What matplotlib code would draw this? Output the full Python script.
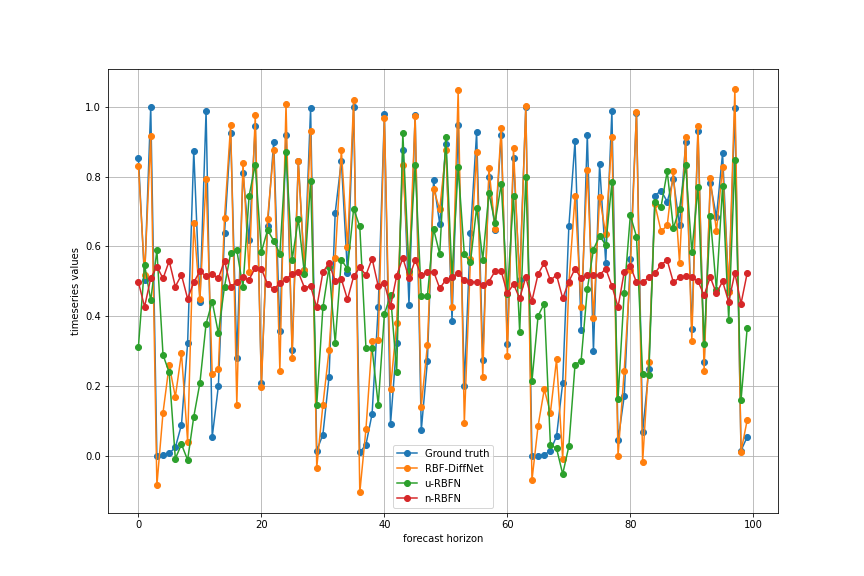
#!/usr/bin/env python3
# -*- coding: utf-8 -*-
# Forecast comparison: ground truth vs three RBF models over 100 steps.
import matplotlib
matplotlib.use('Agg')
import matplotlib.pyplot as plt

# Values (one per forecast step).
ground_truth = [
    0.852, 0.504, 1.0, 0.0, 0.003, 0.007, 0.024, 0.089, 0.323, 0.874,
    0.441, 0.988, 0.054, 0.2, 0.637, 0.925, 0.28, 0.81, 0.617, 0.944,
    0.209, 0.659, 0.9, 0.357, 0.918, 0.302, 0.844, 0.533, 0.997, 0.015,
    0.061, 0.226, 0.696, 0.845, 0.523, 1.0, 0.01, 0.032, 0.12, 0.425,
    0.979, 0.091, 0.324, 0.876, 0.433, 0.977, 0.073, 0.272, 0.789, 0.664,
    0.893, 0.387, 0.947, 0.2, 0.638, 0.927, 0.275, 0.798, 0.646, 0.918,
    0.32, 0.854, 0.503, 1.0, 0.0, 0.0, 0.003, 0.015, 0.056, 0.209,
    0.657, 0.901, 0.36, 0.92, 0.3, 0.835, 0.553, 0.988, 0.044, 0.17,
    0.565, 0.983, 0.068, 0.248, 0.745, 0.76, 0.728, 0.792, 0.66, 0.898,
    0.363, 0.93, 0.268, 0.782, 0.684, 0.867, 0.472, 0.996, 0.015, 0.054]

rbf_diffnet = [
    0.83, 0.519, 0.915, -0.085, 0.124, 0.26, 0.169, 0.294, 0.041, 0.667,
    0.448, 0.793, 0.234, 0.248, 0.682, 0.949, 0.146, 0.839, 0.528, 0.976,
    0.196, 0.679, 0.876, 0.243, 1.009, 0.28, 0.844, 0.531, 0.93, -0.034,
    0.146, 0.302, 0.567, 0.876, 0.597, 1.02, -0.105, 0.076, 0.328, 0.333,
    0.969, 0.192, 0.38, 0.834, 0.52, 0.973, 0.141, 0.318, 0.764, 0.706,
    0.876, 0.425, 1.047, 0.094, 0.565, 0.871, 0.226, 0.825, 0.649, 0.94,
    0.285, 0.881, 0.49, 1.003, -0.07, 0.086, 0.19, 0.124, 0.276, -0.01,
    0.494, 0.743, 0.426, 0.818, 0.394, 0.74, 0.636, 0.912, 0.0, 0.243,
    0.532, 0.986, -0.018, 0.27, 0.72, 0.643, 0.66, 0.815, 0.553, 0.912,
    0.33, 0.946, 0.243, 0.795, 0.643, 0.828, 0.47, 1.05, 0.012, 0.102]

u_rbfn = [
    0.313, 0.547, 0.445, 0.589, 0.289, 0.239, -0.008, 0.033, -0.012, 0.112,
    0.209, 0.378, 0.442, 0.351, 0.485, 0.581, 0.589, 0.483, 0.745, 0.834,
    0.584, 0.647, 0.616, 0.579, 0.869, 0.562, 0.679, 0.521, 0.787, 0.146,
    0.425, 0.54, 0.323, 0.562, 0.535, 0.708, 0.657, 0.31, 0.308, 0.146,
    0.406, 0.46, 0.24, 0.925, 0.53, 0.833, 0.458, 0.458, 0.65, 0.578,
    0.912, 0.513, 0.827, 0.578, 0.555, 0.711, 0.562, 0.752, 0.667, 0.779,
    0.464, 0.745, 0.355, 0.798, 0.214, 0.401, 0.436, 0.032, 0.021, -0.052,
    0.027, 0.26, 0.273, 0.477, 0.591, 0.63, 0.604, 0.783, 0.164, 0.467,
    0.689, 0.628, 0.235, 0.231, 0.728, 0.714, 0.815, 0.652, 0.708, 0.833,
    0.584, 0.769, 0.321, 0.686, 0.475, 0.772, 0.389, 0.847, 0.159, 0.365]

n_rbfn = [
    0.497, 0.427, 0.509, 0.542, 0.508, 0.558, 0.485, 0.518, 0.45, 0.497,
    0.529, 0.514, 0.52, 0.509, 0.558, 0.485, 0.497, 0.511, 0.505, 0.538,
    0.535, 0.492, 0.477, 0.494, 0.506, 0.521, 0.526, 0.482, 0.486, 0.425,
    0.526, 0.552, 0.5, 0.506, 0.448, 0.514, 0.54, 0.518, 0.565, 0.486,
    0.494, 0.428, 0.516, 0.567, 0.509, 0.56, 0.518, 0.526, 0.528, 0.48,
    0.504, 0.511, 0.524, 0.503, 0.499, 0.497, 0.489, 0.499, 0.529, 0.529,
    0.465, 0.492, 0.451, 0.512, 0.444, 0.521, 0.552, 0.503, 0.518, 0.451,
    0.499, 0.536, 0.509, 0.518, 0.518, 0.518, 0.536, 0.487, 0.426, 0.526,
    0.544, 0.497, 0.497, 0.511, 0.523, 0.548, 0.56, 0.497, 0.511, 0.514,
    0.511, 0.5, 0.46, 0.512, 0.465, 0.5, 0.441, 0.524, 0.436, 0.523]

series_names = ['Ground truth', 'RBF-DiffNet', 'u-RBFN', 'n-RBFN']

# Configure the plot.
plt.figure(figsize=(12, 8), dpi=72)
ax = plt.subplot()
for values, name in zip([ground_truth, rbf_diffnet, u_rbfn, n_rbfn], series_names):
    ax.plot(range(len(values)), values, marker='o', label=name)
ax.grid(True)
ax.legend(loc='lower center')
plt.xlabel('forecast horizon')
plt.ylabel('timeseries values')
plt.savefig('out.png', dpi=72)
